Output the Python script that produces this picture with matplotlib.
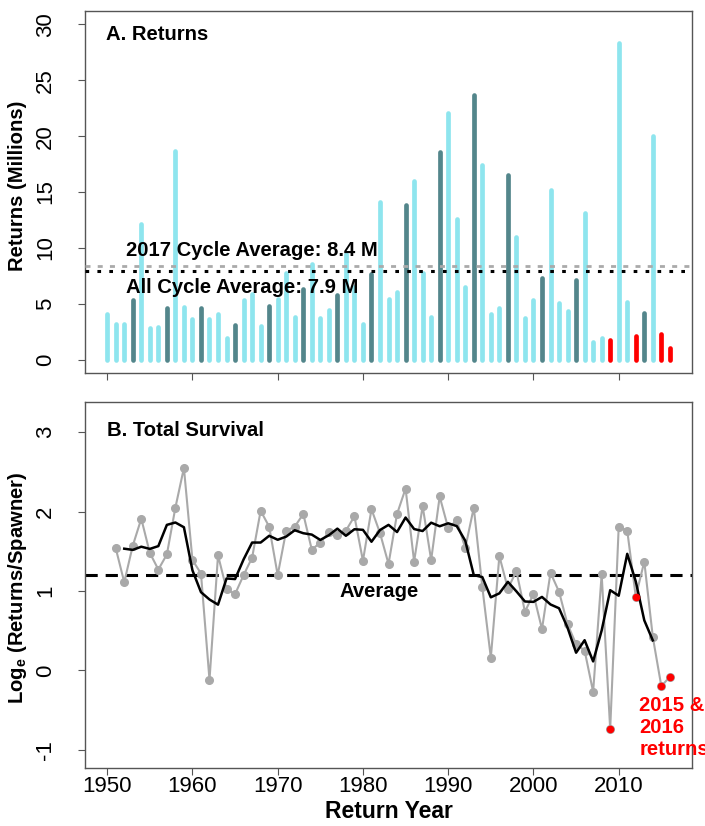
import matplotlib.pyplot as plt
import pandas as pd

plt.rcParams['font.family'] = ['Liberation Sans', 'DejaVu Sans']
plt.rcParams['mathtext.default'] = 'regular'
plt.rcParams['axes.unicode_minus'] = False

# Total returns per return year, millions of fish
years = list(range(1950, 2017))
returns = [4.1, 3.15, 3.2, 5.3, 12.1, 2.8, 2.95, 4.65, 18.7, 4.7,     # 1950s
           3.6, 4.65, 3.6, 4.05, 1.95, 3.1, 5.3, 5.9, 3.0, 4.8,       # 1960s
           5.4, 7.75, 3.8, 6.3, 8.55, 3.75, 4.45, 5.75, 9.45, 6.5,    # 1970s
           3.2, 7.7, 14.1, 5.4, 6.05, 13.8, 15.95, 7.75, 3.8, 18.55,  # 1980s
           22.1, 12.55, 6.5, 23.7, 17.4, 4.05, 4.6, 16.5, 11.0, 3.75, # 1990s
           5.35, 7.3, 15.2, 5.05, 4.35, 7.1, 13.1, 1.6, 1.9, 1.75,    # 2000s
           28.3, 5.2, 2.1, 4.2, 20.0, 2.25, 1.0]                      # 2010-2016

# Log of returns per spawner, by return year
surv_years = list(range(1951, 2017))
survival = [1.54, 1.11, 1.57, 1.91, 1.48, 1.27, 1.46, 2.05, 2.55, 1.39,    # 1951-1960
            1.22, -0.12, 1.45, 1.02, 0.96, 1.20, 1.42, 2.01, 1.81, 1.20,   # 1961-1970
            1.76, 1.81, 1.97, 1.52, 1.61, 1.74, 1.70, 1.76, 1.94, 1.38,    # 1971-1980
            2.03, 1.73, 1.34, 1.97, 2.29, 1.37, 2.07, 1.39, 2.19, 1.79,    # 1981-1990
            1.89, 1.54, 2.05, 1.05, 0.16, 1.44, 1.03, 1.25, 0.74, 0.96,    # 1991-2000
            0.52, 1.23, 0.99, 0.58, 0.33, 0.25, -0.27, 1.21, -0.74, 1.81,  # 2001-2010
            1.76, 0.93, 1.37, 0.42, -0.20, -0.08]                          # 2011-2016

red_years = [2009, 2012, 2015, 2016]
cycle_year = 2017
cycle_avg = 8.4
all_avg = 7.9
survival_avg = 1.2

light = '#8EE5EE'
dark = '#53868B'
frame = '#555555'
label_size = 14.6

fig = plt.figure(figsize=(7.05, 8.26), dpi=100)
ax1 = fig.add_axes([0.1206, 0.5484, 0.8610, 0.4383])
ax2 = fig.add_axes([0.1206, 0.0702, 0.8610, 0.4431])

# A. Returns: one thick stick per year, dominant cycle years darker
bar_colors = []
for y in years:
    if y in red_years:
        bar_colors.append('#FF0000')
    elif (cycle_year - y) % 4 == 0:
        bar_colors.append(dark)
    else:
        bar_colors.append(light)
ax1.vlines(years, 0, returns, colors=bar_colors, lw=3.4, capstyle='round', zorder=2)

ax1.axhline(cycle_avg, color='#AAAAAA', lw=2.0, ls=(0, (1.8, 2.6)), zorder=3)
ax1.axhline(all_avg, color='black', lw=2.2, ls=(0, (1.2, 2.7)), zorder=3)
ax1.text(1952.2, 9.8, f'{cycle_year} Cycle Average: {cycle_avg} M', fontsize=label_size,
         fontweight='bold', ha='left', va='center', zorder=4)
ax1.text(1952.2, 6.45, f'All Cycle Average: {all_avg} M', fontsize=label_size,
         fontweight='bold', ha='left', va='center', zorder=4)
ax1.text(1949.85, 29.1, 'A. Returns', fontsize=label_size, fontweight='bold',
         ha='left', va='center')

ax1.set_xlim(1947.4, 2018.6)
ax1.set_ylim(-1.2, 31.2)
ax1.set_yticks(range(0, 31, 5))
ax1.set_xticks(range(1950, 2011, 10))
ax1.set_xticklabels([])

# B. Total Survival: annual values, 4-year running mean and the long-term average
surv = pd.Series(survival, index=surv_years)
running = surv.rolling(4).mean().shift(-2)

ax2.axhline(survival_avg, color='black', lw=2.2, ls=(0, (4.0, 2.6)), zorder=1)
ax2.plot(surv.index, surv.values, color='#A9A9A9', lw=1.5, marker='o', ms=5.5, zorder=2)
ax2.plot(running.index, running.values, color='black', lw=1.8, zorder=3)
ax2.plot(red_years, surv[red_years].values, 'o', color='#FF0000', ms=4.5, zorder=4)

ax2.text(1950.0, 3.02, 'B. Total Survival', fontsize=label_size, fontweight='bold',
         ha='left', va='center')
ax2.text(1981.9, 0.99, 'Average', fontsize=label_size, fontweight='bold',
         ha='center', va='center')
ax2.text(2012.4, -0.72, '2015 &\n2016\nreturns', color='#FF0000', fontsize=label_size,
         fontweight='bold', ha='left', va='center', linespacing=1.2)

ax2.set_xlim(1947.4, 2018.6)
ax2.set_ylim(-1.23, 3.38)
ax2.set_yticks([-1, 0, 1, 2, 3])
ax2.set_xticks(range(1950, 2011, 10))

for ax in (ax1, ax2):
    for side in ax.spines.values():
        side.set_color(frame)
        side.set_linewidth(1.0)
    ax.tick_params(direction='out', length=5, width=0.8, color=frame, labelsize=16)
    ax.tick_params(axis='y', pad=16, labelrotation=90)
    ax.tick_params(axis='x', pad=1)
    for lab in ax.get_yticklabels():
        lab.set_va('center')

fig.text(18 / 705, 1 - 186 / 826, 'Returns (Millions)', rotation=90, fontsize=label_size,
         fontweight='bold', ha='center', va='center')
fig.text(18 / 705, 1 - 588 / 826, 'Log$_e$ (Returns/Spawner)', rotation=90,
         fontsize=label_size, fontweight='bold', ha='center', va='center')
fig.text(388.5 / 705, 1 - 811 / 826, 'Return Year', fontsize=16.5, fontweight='bold',
         ha='center', va='center')

fig.savefig('out.png', dpi=100, facecolor='white')
